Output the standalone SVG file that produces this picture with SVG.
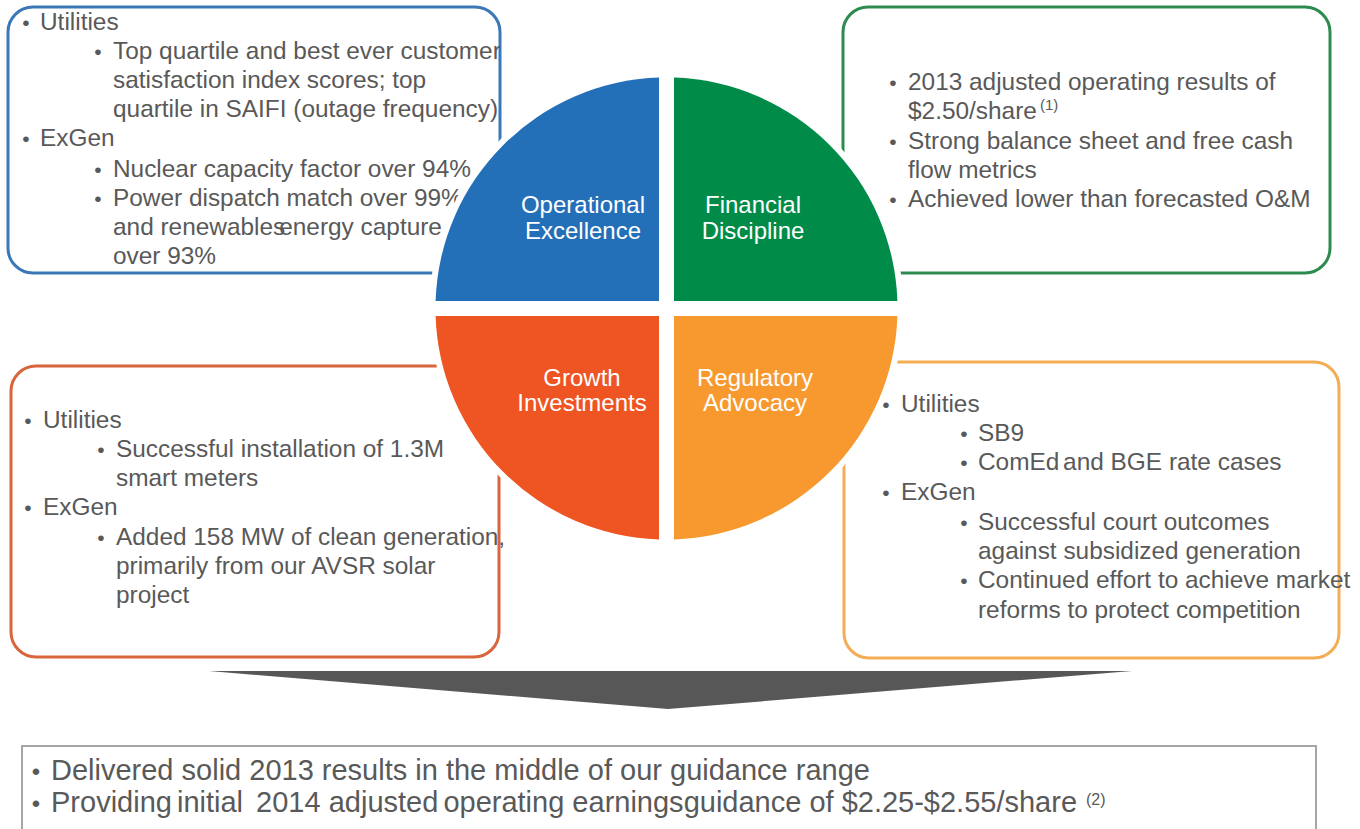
<svg xmlns="http://www.w3.org/2000/svg" width="1360" height="829" viewBox="0 0 1360 829">
<style>
.box{fill:#ffffff;stroke-width:3}
.t{font-family:"Liberation Sans",Arial,sans-serif;font-size:24.4px;fill:#595959}
.b{font-family:"Liberation Sans",Arial,sans-serif;font-size:21px;fill:#595959;text-anchor:middle}
.sup{font-family:"Liberation Sans",Arial,sans-serif;font-size:15px;fill:#595959}
.lbl{font-family:"Liberation Sans",Arial,sans-serif;font-size:24px;fill:#ffffff;text-anchor:middle}
.bt{font-family:"Liberation Sans",Arial,sans-serif;font-size:29px;fill:#595959}
.bb{font-family:"Liberation Sans",Arial,sans-serif;font-size:24px;fill:#595959;text-anchor:middle}
</style>
<rect width="1360" height="829" fill="#ffffff"/>

<g id="box-operational">
<rect class="box" x="8" y="7" width="492" height="266" rx="25" stroke="#3a78b6"/>
<text class="b" x="26" y="30">•</text><text class="t" x="40" y="30">Utilities</text>
<text class="b" x="98" y="59">•</text><text class="t" x="113" y="59">Top quartile and best ever customer</text>
<text class="t" x="113" y="88">satisfaction index scores; top</text>
<text class="t" x="113" y="117">quartile in SAIFI (outage frequency)</text>
<text class="b" x="26" y="146">•</text><text class="t" x="40" y="146">ExGen</text>
<text class="b" x="98" y="177">•</text><text class="t" x="113" y="177">Nuclear capacity factor over 94%</text>
<text class="b" x="98" y="206">•</text><text class="t" x="113" y="206">Power dispatch match over 99%</text>
<text class="t" x="113" y="235">and renewables<tspan dx="-6">energy capture</tspan></text>
<text class="t" x="113" y="264">over 93%</text>
</g>

<g id="box-financial">
<rect class="box" x="843" y="7" width="487" height="266" rx="25" stroke="#2e8b50"/>
<text class="b" x="893" y="90">•</text><text class="t" x="908" y="90">2013 adjusted operating results of</text>
<text class="t" x="908" y="119">$2.50/share</text><text class="sup" x="1040" y="110">(1)</text>
<text class="b" x="893" y="149">•</text><text class="t" x="908" y="149">Strong balance sheet and free cash</text>
<text class="t" x="908" y="178">flow metrics</text>
<text class="b" x="893" y="207">•</text><text class="t" x="908" y="207">Achieved lower than forecasted O&amp;M</text>
</g>

<g id="box-growth">
<rect class="box" x="11" y="366" width="488" height="291" rx="25" stroke="#d9653d"/>
<text class="b" x="28" y="428">•</text><text class="t" x="43" y="428">Utilities</text>
<text class="b" x="101" y="457">•</text><text class="t" x="116" y="457">Successful installation of 1.3M</text>
<text class="t" x="116" y="486">smart meters</text>
<text class="b" x="28" y="515">•</text><text class="t" x="43" y="515">ExGen</text>
<text class="b" x="101" y="545">•</text><text class="t" x="116" y="545">Added 158 MW of clean generation,</text>
<text class="t" x="116" y="574">primarily from our AVSR solar</text>
<text class="t" x="116" y="603">project</text>
</g>

<g id="box-regulatory">
<rect class="box" x="844" y="362" width="495" height="296" rx="25" stroke="#f2ad55"/>
<text class="b" x="886" y="412">•</text><text class="t" x="901" y="412">Utilities</text>
<text class="b" x="964" y="441">•</text><text class="t" x="978" y="441">SB9</text>
<text class="b" x="964" y="470">•</text><text class="t" x="978" y="470">ComEd<tspan dx="-3"> and BGE rate cases</tspan></text>
<text class="b" x="886" y="500">•</text><text class="t" x="901" y="500">ExGen</text>
<text class="b" x="964" y="530">•</text><text class="t" x="978" y="530">Successful court outcomes</text>
<text class="t" x="978" y="559">against subsidized generation</text>
<text class="b" x="964" y="588">•</text><text class="t" x="978" y="588">Continued effort to achieve market</text>
<text class="t" x="978" y="618">reforms to protect competition</text>
</g>

<g id="circle">
<circle cx="666.5" cy="308.5" r="237" fill="#ffffff"/>
<g id="q-operational">
<path d="M659,301 L659,77.6 A231,231 0 0 0 435.6,301 Z" fill="#2470b8"/>
<text class="lbl" x="583" y="213">Operational</text>
<text class="lbl" x="583" y="239">Excellence</text>
</g>
<g id="q-financial">
<path d="M674,301 L897.4,301 A231,231 0 0 0 674,77.6 Z" fill="#008c48"/>
<text class="lbl" x="753" y="213">Financial</text>
<text class="lbl" x="753" y="239">Discipline</text>
</g>
<g id="q-growth">
<path d="M659,316 L435.6,316 A231,231 0 0 0 659,539.4 Z" fill="#ef5423"/>
<text class="lbl" x="582" y="386">Growth</text>
<text class="lbl" x="582" y="411">Investments</text>
</g>
<g id="q-regulatory">
<path d="M674,316 L674,539.4 A231,231 0 0 0 897.4,316 Z" fill="#f7992e"/>
<text class="lbl" x="755" y="386">Regulatory</text>
<text class="lbl" x="755" y="411">Advocacy</text>
</g>
</g>

<g id="connectors">
<polygon points="209,671 1132,671 668,709" fill="#575757"/>
</g>

<g id="box-summary">
<rect x="22" y="746" width="1294" height="100" fill="#ffffff" stroke="#a6a6a6" stroke-width="2"/>
<text class="bb" x="36" y="780">•</text><text class="bt" x="51" y="780">Delivered solid 2013 results in the middle of our guidance range</text>
<text class="bb" x="36" y="812">•</text><text class="bt" x="51" y="812">Providing<tspan dx="-3"> initial </tspan><tspan dx="5">2014 adjusted</tspan><tspan dx="-3"> operating earnings</tspan><tspan dx="0">guidance of $2.25-$2.55/share</tspan></text>
<text class="sup" x="1086" y="805" style="font-size:16px">(2)</text>
</g>
</svg>
